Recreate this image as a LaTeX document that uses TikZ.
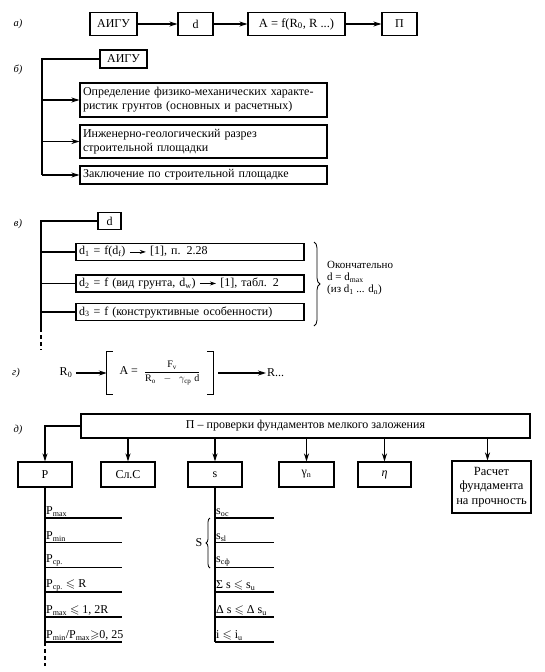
\documentclass[tikz,border=0pt]{standalone}
\usepackage{amsmath,amssymb}
\usepackage{fontspec}
\setmainfont{Liberation Serif}
\usetikzlibrary{arrows.meta,decorations.pathreplacing}
\newcommand\inarr{\tikz[baseline=-0.55ex]\draw[-{Stealth[length=6pt,width=4pt]},line width=0.7pt] (0pt,0pt) -- (16pt,0pt);}
\begin{document}
\begin{tikzpicture}[x=1pt,y=-1pt,
  every node/.style={font=\fontsize{12}{14}\selectfont},
  box/.style={draw,line width=1.1pt,inner sep=2pt},
  lbox/.style={box,align=left,inner xsep=3pt},
  lab/.style={font=\fontsize{10.5}{12}\selectfont\itshape},
  arr/.style={-{Stealth[length=8pt,width=5pt]},line width=1.1pt},
  ln/.style={line width=1.1pt},
  txt/.style={anchor=south west,inner sep=1pt}]
\useasboundingbox (0,0) rectangle (545,672);

% ---------- a)
\node[lab] (la) at (18,24) {а)};
\node[box,minimum width=47,minimum height=23] (a1) at (113.5,24) {АИГУ};
\node[box,minimum width=35,minimum height=23] (a2) at (195.5,24) {d};
\node[box,minimum width=97,minimum height=23,font=\fontsize{12.5}{14}\selectfont] (a3) at (296.5,24) {A = f(R\textsubscript{0}, R ...)};
\node[box,minimum width=35,minimum height=23] (a4) at (399.5,24) {П};
\draw[arr] (a1) -- (a2);
\draw[arr] (a2) -- (a3);
\draw[arr] (a3) -- (a4);

% ---------- b)
\node[lab] (lb) at (18,70) {б)};
\node[box,minimum width=47,minimum height=18] (b0) at (123.5,59) {АИГУ};
\node[lbox,text width=241,minimum height=34] (b1) at (203.5,100) {Определение физико-механических характе-\\ристик грунтов (основных и расчетных)};
\node[lbox,text width=241,minimum height=33] (b2) at (203.5,141.5) {Инженерно-геологический разрез\\строительной площадки};
\node[lbox,text width=241,minimum height=18] (b3) at (203.5,175) {Заключение по строительной площадке};
\coordinate (bv) at (42,59);
\draw[ln] (b0.west) -- (bv) -- (bv |- b3.west);
\draw[arr] (bv |- b1.west) -- (b1.west);
\draw[arr] (bv |- b2.west) -- (b2.west);
\draw[arr] (bv |- b3.west) -- (b3.west);

% ---------- v)
\node[lab] (lv) at (18,224) {в)};
\node[box,minimum width=23,minimum height=17] (c0) at (109.5,221) {d};
\node[lbox,text width=222,minimum height=17] (c1) at (190,252) {d\textsubscript{1} = f(d\textsubscript{f}) \inarr{} [1], п. 2.28};
\node[lbox,text width=222,minimum height=17] (c2) at (190,283.5) {d\textsubscript{2} = f (вид грунта, d\textsubscript{w}) \inarr{} [1], табл. 2};
\node[lbox,text width=222,minimum height=17] (c3) at (190,312) {d\textsubscript{3} = f (конструктивные особенности)};
\coordinate (cv) at (41,221);
\coordinate (cvs) at (41,328);
\coordinate (cve) at (41,350);
\draw[ln] (c0.west) -- (cv) -- (cvs);
\draw[ln,dash pattern=on 4pt off 3pt] (cvs) -- (cve);
\draw[ln] (cv |- c1.west) -- (c1.west);
\draw[ln] (cv |- c2.west) -- (c2.west);
\draw[ln] (cv |- c3.west) -- (c3.west);
\coordinate (cb1) at (314,242);
\coordinate (cb2) at (314,326);
\draw[ln,line width=0.8pt,decorate,decoration={brace,amplitude=6pt}] (cb1) -- (cb2);
\node[anchor=west,align=left,inner sep=0pt,font=\fontsize{11}{12}\selectfont] (c4) at (327,278)
  {Окончательно\\d = d\textsubscript{max}\\(из d\textsubscript{1} ... d\textsubscript{n})};

% ---------- g)
\node[lab] (lg) at (16,373) {г)};
\node (g0) at (66,373) {R\textsubscript{0}};
\node[minimum width=106,minimum height=43,inner sep=0pt] (g1) at (160,373)
  {A =\enspace{\fontsize{10}{11}\selectfont$\dfrac{\textrm{F\textsubscript{v}}}{\textrm{R\textsubscript{o}}\;\;-\;\;\gamma_{\textrm{cp}}\;\textrm{d}}$}};
\node[anchor=west,inner sep=1pt] (g2) at (266,373) {R...};
\draw[ln] ([xshift=6pt]g1.north west) -- (g1.north west) -- (g1.south west) -- ([xshift=6pt]g1.south west);
\draw[ln] ([xshift=-6pt]g1.north east) -- (g1.north east) -- (g1.south east) -- ([xshift=-6pt]g1.south east);
\draw[arr] (g0) -- (g1.west);
\draw[arr] ([xshift=5pt]g1.east) -- (g2.west);

% ---------- d)
\node[lab] (ld) at (18,430) {д)};
\node[box,minimum width=449,minimum height=24] (e0) at (305.5,426) {П -- проверки фундаментов мелкого заложения};
\node[box,minimum width=54,minimum height=25] (e1) at (45,474.5) {P};
\node[box,minimum width=54,minimum height=25] (e2) at (128,474.5) {Сл.С};
\node[box,minimum width=54,minimum height=25] (e3) at (215,474.5) {s};
\node[box,minimum width=55,minimum height=25] (e4) at (306.5,474.5) {γ\textsubscript{n}};
\node[box,minimum width=53,minimum height=25] (e5) at (384.5,474.5) {\textit{η}};
\node[box,minimum width=79,minimum height=52,align=center,inner sep=1pt,font=\fontsize{12.5}{14.5}\selectfont] (e6) at (491.5,487) {Расчет\\фундамента\\на прочность};
\draw[arr] (e0.west) -| (e1.north);
\foreach \b in {e2,e3,e4,e5} \draw[arr] (e0.south -| \b.north) -- (\b.north);
\draw[arr] ([xshift=-4pt]e0.south -| e6.north) -- ([xshift=-4pt]e6.north);

% P column
\coordinate (pv) at (45,642);
\coordinate (pve) at (45,666);
\draw[ln] (e1.south) -- (pv);
\draw[ln,dash pattern=on 4pt off 3pt] (pv) -- (pve);
\foreach \i/\y in {1/518,2/542.5,3/567.5,4/592,5/617,6/642} {
  \coordinate (pl\i) at (45,\y);
  \coordinate (pr\i) at (122,\y);
  \draw[ln] (pl\i) -- (pr\i);
}
\node[txt] (pt1) at (pl1) {P\textsubscript{max}};
\node[txt] (pt2) at (pl2) {P\textsubscript{min}};
\node[txt] (pt3) at (pl3) {P\textsubscript{ср.}};
\node[txt] (pt4) at (pl4) {P\textsubscript{ср.} $\leqslant$ R};
\node[txt] (pt5) at (pl5) {P\textsubscript{max} $\leqslant$ 1, 2R};
\node[txt] (pt6) at (pl6) {P\textsubscript{min}/P\textsubscript{max}$\geqslant$0, 25};

% s column
\coordinate (sv) at (215,642);
\draw[ln] (e3.south) -- (sv);
\foreach \i/\y in {1/518,2/542.5,3/567.5,4/592,5/617,6/642} {
  \coordinate (sl\i) at (215,\y);
  \coordinate (sr\i) at (274,\y);
  \draw[ln] (sl\i) -- (sr\i);
}
\node[txt] (st1) at (sl1) {s\textsubscript{ос}};
\node[txt] (st2) at (sl2) {s\textsubscript{sl}};
\node[txt] (st3) at (sl3) {s\textsubscript{сф}};
\node[txt] (st4) at (sl4) {Σ s $\leqslant$ s\textsubscript{u}};
\node[txt] (st5) at (sl5) {Δ s $\leqslant$ Δ s\textsubscript{u}};
\node[txt] (st6) at (sl6) {i $\leqslant$ i\textsubscript{u}};
\coordinate (sb1) at (210,568);
\coordinate (sb2) at (210,518);
\draw[ln,line width=0.8pt,decorate,decoration={brace,amplitude=4pt}] (sb1) -- (sb2);
\node (sS) at (199,543) {S};
\end{tikzpicture}
\end{document}
